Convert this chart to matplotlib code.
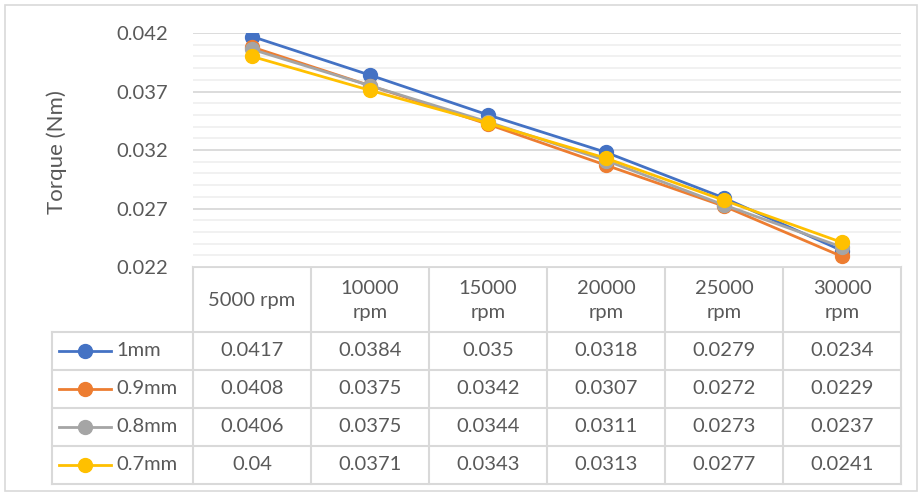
import matplotlib.pyplot as plt
from matplotlib.ticker import MultipleLocator
from matplotlib.patches import Rectangle

speeds = ["5000 rpm", "10000 rpm", "15000 rpm", "20000 rpm", "25000 rpm", "30000 rpm"]
names = ["1mm", "0.9mm", "0.8mm", "0.7mm"]
t_1mm = [0.0417, 0.0384, 0.035, 0.0318, 0.0279, 0.0234]
t_09mm = [0.0408, 0.0375, 0.0342, 0.0307, 0.0272, 0.0229]
t_08mm = [0.0406, 0.0375, 0.0344, 0.0311, 0.0273, 0.0237]
t_07mm = [0.04, 0.0371, 0.0343, 0.0313, 0.0277, 0.0241]
series = [t_1mm, t_09mm, t_08mm, t_07mm]
colors = ["#4472C4", "#ED7D31", "#A5A5A5", "#FFC000"]

plt.rcParams['font.family'] = ['Lato', 'DejaVu Sans']
txt = "#595959"
grid_c = "#D9D9D9"
fs = 14.5
W, H = 922, 496

fig = plt.figure(figsize=(W / 100, H / 100), dpi=100)

# overlay in pixel coordinates for border and data table
bg = fig.add_axes([0, 0, 1, 1])
bg.set_xlim(0, W)
bg.set_ylim(H, 0)
bg.axis('off')
bg.add_patch(Rectangle((5, 5), 912, 486, fill=False, ec=grid_c, lw=1.2))

left, right, top, bottom = 193, 901, 33, 267
ax = fig.add_axes([left / W, 1 - bottom / H, (right - left) / W, (bottom - top) / H])
x = list(range(len(speeds)))
for s, c, n in zip(series, colors, names):
    ax.plot(x, s, color=c, lw=2, marker='o', markersize=10, label=n, zorder=3)
ax.set_xlim(-0.5, len(speeds) - 0.5)
ax.set_ylim(0.022, 0.042)
ax.yaxis.set_minor_locator(MultipleLocator(0.001))
ax.set_yticks([0.022, 0.027, 0.032, 0.037, 0.042])
ax.set_yticklabels(["0.022", "0.027", "0.032", "0.037", "0.042"])
ax.grid(True, which='major', axis='y', color=grid_c, lw=1.3)
ax.grid(True, which='minor', axis='y', color="#F0F0F0", lw=1.3)
ax.set_xticks([])
ax.tick_params(axis='y', length=0, which='both', pad=18, labelsize=fs, labelcolor=txt)
for sp in ax.spines.values():
    sp.set_visible(False)
bg.text(57, (top + bottom) / 2 + 2, "Torque (Nm)", rotation=90, ha='center', va='center',
        fontsize=16, color=txt)

# data table
col_w = (right - left) / len(speeds)
edges = [left + i * col_w for i in range(len(speeds) + 1)]
row_top = 332
row_h = 38
leg_left = 52
rows_bottom = row_top + row_h * len(names)
for e in edges:
    bg.plot([e, e], [bottom, rows_bottom], color=grid_c, lw=1.5)
bg.plot([leg_left, leg_left], [row_top, rows_bottom], color=grid_c, lw=1.5)
bg.plot([left, right], [bottom, bottom], color=grid_c, lw=1.5)
for i in range(len(names) + 1):
    y = row_top + i * row_h
    bg.plot([leg_left, right], [y, y], color=grid_c, lw=1.5)

for j, sp in enumerate(speeds):
    lab = sp if len(sp) <= 8 else sp.replace(" ", "\n")
    bg.text((edges[j] + edges[j + 1]) / 2, (bottom + row_top) / 2 + 1, lab,
            ha='center', va='center', fontsize=fs, color=txt, linespacing=1.45)

for i, (s, c, n) in enumerate(zip(series, colors, names)):
    yc = row_top + (i + 0.5) * row_h
    bg.plot([59, 111], [yc, yc], color=c, lw=2)
    bg.plot([85], [yc], marker='o', color=c, markersize=10)
    bg.text(116, yc, n, ha='left', va='center', fontsize=fs, color=txt)
    for j, v in enumerate(s):
        bg.text((edges[j] + edges[j + 1]) / 2, yc, f"{v:g}",
                ha='center', va='center', fontsize=fs, color=txt)

fig.savefig("out.png", dpi=100)
